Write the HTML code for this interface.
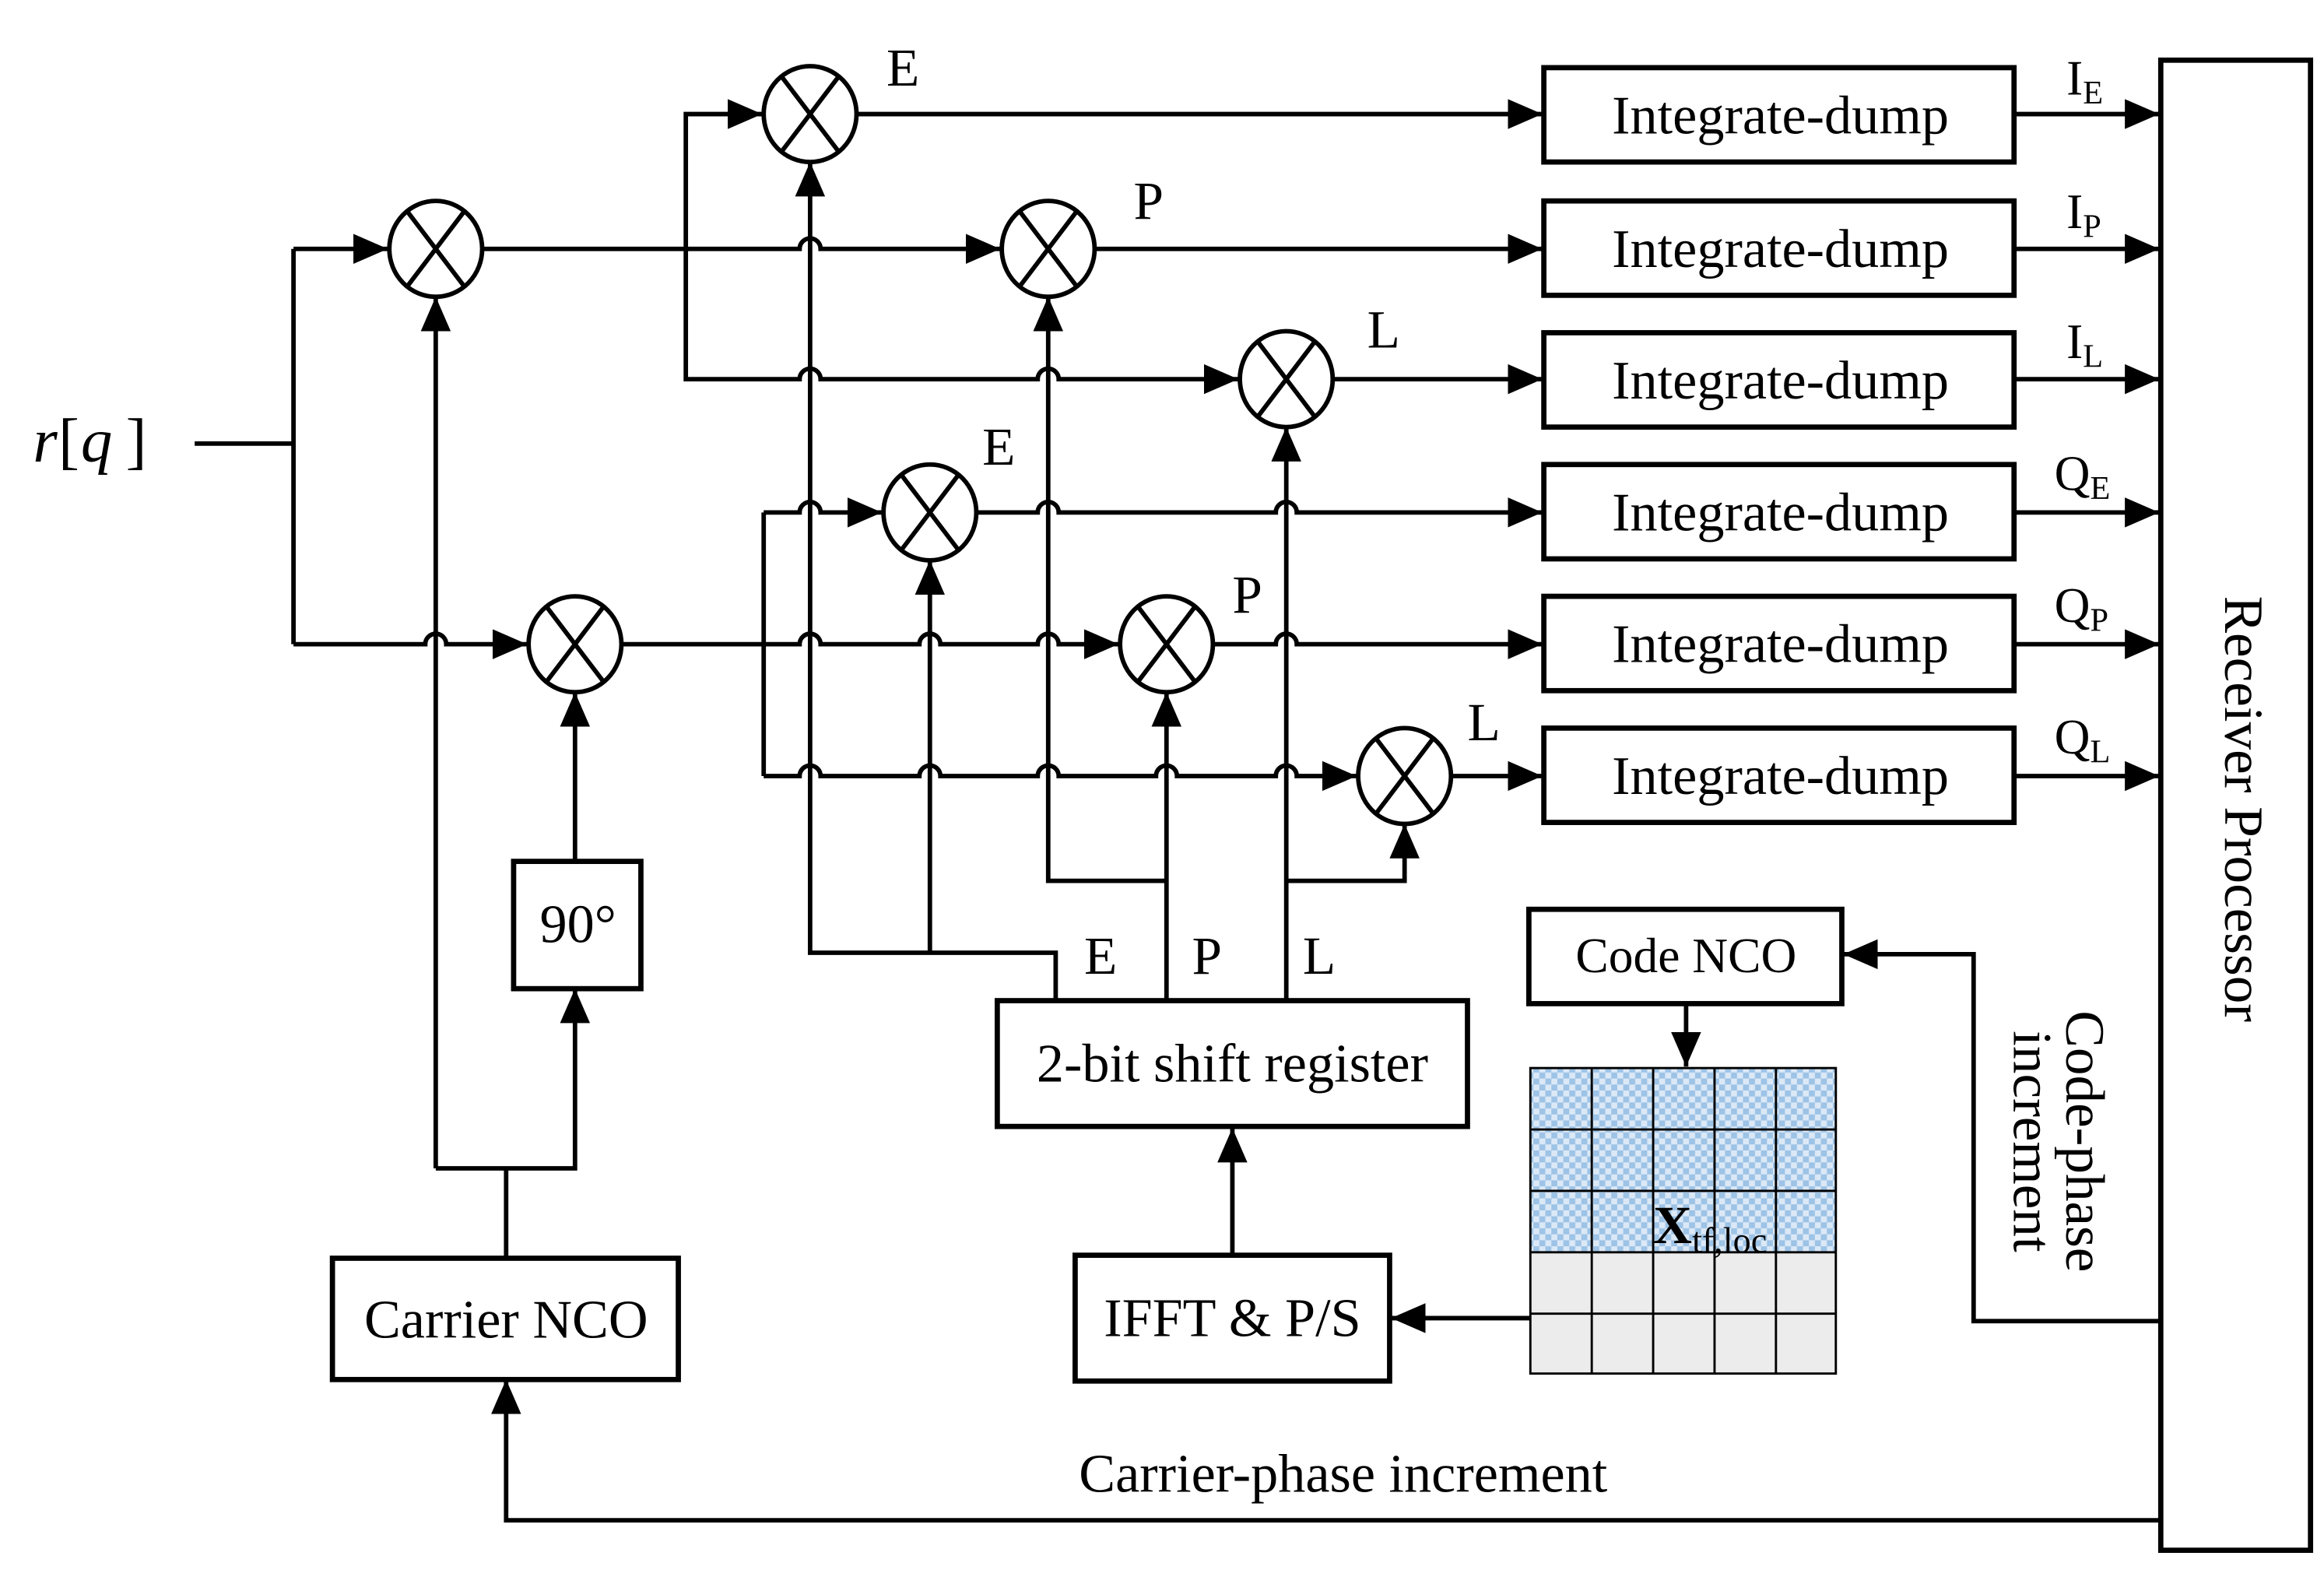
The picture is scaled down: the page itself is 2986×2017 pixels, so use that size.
<!DOCTYPE html>
<html><head><meta charset="utf-8"><style>html,body{margin:0;padding:0;background:#fff}svg{display:block}</style></head>
<body>
<svg xmlns="http://www.w3.org/2000/svg" width="2986" height="2017" viewBox="0 0 1552 1048" font-family="'Liberation Serif', serif">
<defs>
<marker id="a" markerUnits="userSpaceOnUse" markerWidth="26" markerHeight="24" refX="23" refY="10" orient="auto"><path d="M0,0 L23,10 L0,20 z" fill="#000"/></marker>
<pattern id="chk" width="8" height="8" patternUnits="userSpaceOnUse"><rect width="8" height="8" fill="#dbe8f6"/><rect width="4" height="4" fill="#9dc3e6"/><rect x="4" y="4" width="4" height="4" fill="#9dc3e6"/></pattern>
</defs>
<rect width="1552" height="1048" fill="#fff"/>
<g fill="none" stroke="#000" stroke-width="3">
<path d="M130 296 L196 296 M196 166 L196 430"/>
<path d="M196 166 L259 166" marker-end="url(#a)"/>
<path d="M196 430 L284 430 A7 7 0 0 1 298 430 L352 430" marker-end="url(#a)"/>
<path d="M322 166 L534 166 A7 7 0 0 1 548 166 L668 166" marker-end="url(#a)"/>
<path d="M458 166 L458 76 L509 76" marker-end="url(#a)"/>
<path d="M458 166 L458 253 L534 253 A7 7 0 0 1 548 253 L693 253 A7 7 0 0 1 707 253 L827 253" marker-end="url(#a)"/>
<path d="M572 76 L1030 76" marker-end="url(#a)"/>
<path d="M731 166 L1030 166" marker-end="url(#a)"/>
<path d="M890 253 L1030 253" marker-end="url(#a)"/>
<path d="M415 430 L534 430 A7 7 0 0 1 548 430 L614 430 A7 7 0 0 1 628 430 L693 430 A7 7 0 0 1 707 430 L747 430" marker-end="url(#a)"/>
<path d="M510 342 L510 518"/>
<path d="M510 342 L534 342 A7 7 0 0 1 548 342 L589 342" marker-end="url(#a)"/>
<path d="M652 342 L693 342 A7 7 0 0 1 707 342 L852 342 A7 7 0 0 1 866 342 L1030 342" marker-end="url(#a)"/>
<path d="M810 430 L852 430 A7 7 0 0 1 866 430 L1030 430" marker-end="url(#a)"/>
<path d="M510 518 L534 518 A7 7 0 0 1 548 518 L614 518 A7 7 0 0 1 628 518 L693 518 A7 7 0 0 1 707 518 L772 518 A7 7 0 0 1 786 518 L852 518 A7 7 0 0 1 866 518 L906 518" marker-end="url(#a)"/>
<path d="M969 518 L1030 518" marker-end="url(#a)"/>
<path d="M291 780 L291 198" marker-end="url(#a)"/>
<path d="M291 780 L384 780 L384 660" marker-end="url(#a)"/>
<path d="M338 840 L338 780"/>
<path d="M384 575 L384 462" marker-end="url(#a)"/>
<path d="M705 668 L705 636 L541 636 L541 108" marker-end="url(#a)"/>
<path d="M621 636 L621 374" marker-end="url(#a)"/>
<path d="M779 668 L779 462" marker-end="url(#a)"/>
<path d="M779 588 L700 588 L700 198" marker-end="url(#a)"/>
<path d="M859 668 L859 285" marker-end="url(#a)"/>
<path d="M859 588 L938 588 L938 550" marker-end="url(#a)"/>
<path d="M823 838 L823 753" marker-end="url(#a)"/>
<path d="M1022 880 L929 880" marker-end="url(#a)"/>
<path d="M1126 670 L1126 712" marker-end="url(#a)"/>
<path d="M1443 882 L1318 882 L1318 637 L1231 637" marker-end="url(#a)"/>
<path d="M1443 1015 L338 1015 L338 921" marker-end="url(#a)"/>
<path d="M1345 76 L1442 76" marker-end="url(#a)"/>
<path d="M1345 166 L1442 166" marker-end="url(#a)"/>
<path d="M1345 253 L1442 253" marker-end="url(#a)"/>
<path d="M1345 342 L1442 342" marker-end="url(#a)"/>
<path d="M1345 430 L1442 430" marker-end="url(#a)"/>
<path d="M1345 518 L1442 518" marker-end="url(#a)"/>
</g>
<g fill="#fff" stroke="#000" stroke-width="3">
<g transform="translate(541,76)"><ellipse rx="31" ry="32"/><path d="M-19,-25 L19,25 M19,-25 L-19,25"/></g>
<g transform="translate(291,166)"><ellipse rx="31" ry="32"/><path d="M-19,-25 L19,25 M19,-25 L-19,25"/></g>
<g transform="translate(700,166)"><ellipse rx="31" ry="32"/><path d="M-19,-25 L19,25 M19,-25 L-19,25"/></g>
<g transform="translate(859,253)"><ellipse rx="31" ry="32"/><path d="M-19,-25 L19,25 M19,-25 L-19,25"/></g>
<g transform="translate(621,342)"><ellipse rx="31" ry="32"/><path d="M-19,-25 L19,25 M19,-25 L-19,25"/></g>
<g transform="translate(384,430)"><ellipse rx="31" ry="32"/><path d="M-19,-25 L19,25 M19,-25 L-19,25"/></g>
<g transform="translate(779,430)"><ellipse rx="31" ry="32"/><path d="M-19,-25 L19,25 M19,-25 L-19,25"/></g>
<g transform="translate(938,518)"><ellipse rx="31" ry="32"/><path d="M-19,-25 L19,25 M19,-25 L-19,25"/></g>
</g>
<g fill="#fff" stroke="#000" stroke-width="3.5">
<rect x="1031" y="45" width="314" height="63"/>
<rect x="1031" y="134" width="314" height="63"/>
<rect x="1031" y="222" width="314" height="63"/>
<rect x="1031" y="310" width="314" height="63"/>
<rect x="1031" y="398" width="314" height="63"/>
<rect x="1031" y="486" width="314" height="63"/>
<rect x="1443" y="40" width="100" height="995"/>
<rect x="343" y="575" width="85" height="85"/>
<rect x="222" y="840" width="231" height="81"/>
<rect x="666" y="668" width="314" height="84"/>
<rect x="718" y="838" width="210" height="84"/>
<rect x="1021" y="607" width="209" height="63"/>
</g>
<rect x="1022" y="713" width="204" height="123" fill="url(#chk)"/>
<rect x="1022" y="836" width="204" height="81" fill="#ececec"/>
<g stroke="#000" stroke-width="1.5" fill="none">
<rect x="1022" y="713" width="204" height="204"/>
<path d="M1063 713V917 M1104 713V917 M1145 713V917 M1186 713V917 M1022 754H1226 M1022 795H1226 M1022 836H1226 M1022 877H1226"/>
</g>
<g font-size="36" fill="#000">
<text x="22" y="308" font-size="42" font-style="italic">r</text><text x="39" y="308" font-size="42">[</text><text x="54" y="308" font-size="42" font-style="italic">q</text><text x="84" y="308" font-size="42">]</text>
<g text-anchor="middle" font-size="36.5">
<text x="1189" y="89">Integrate-dump</text>
<text x="1189" y="178">Integrate-dump</text>
<text x="1189" y="266">Integrate-dump</text>
<text x="1189" y="354">Integrate-dump</text>
<text x="1189" y="442">Integrate-dump</text>
<text x="1189" y="530">Integrate-dump</text>
<text x="386" y="629">90°</text>
<text x="338" y="893">Carrier NCO</text>
<text x="823" y="722">2-bit shift register</text>
<text x="823" y="892">IFFT &amp; P/S</text>
<text x="1126" y="649" font-size="33">Code NCO</text>
<text x="897" y="996">Carrier-phase increment</text>
</g>
<text x="592" y="57">E</text><text x="757" y="146">P</text><text x="913" y="232">L</text>
<text x="656" y="310">E</text><text x="823" y="409">P</text><text x="980" y="494">L</text>
<text x="724" y="650">E</text><text x="796" y="650">P</text><text x="870" y="650">L</text>
<text x="1380" y="63" font-size="33">I<tspan font-size="22" dy="6">E</tspan></text>
<text x="1380" y="152" font-size="33">I<tspan font-size="22" dy="6">P</tspan></text>
<text x="1380" y="239" font-size="33">I<tspan font-size="22" dy="6">L</tspan></text>
<text x="1372" y="327" font-size="33">Q<tspan font-size="22" dy="6">E</tspan></text>
<text x="1372" y="415" font-size="33">Q<tspan font-size="22" dy="6">P</tspan></text>
<text x="1372" y="503" font-size="33">Q<tspan font-size="22" dy="6">L</tspan></text>
<text x="1104" y="830" font-size="36" font-weight="bold">X<tspan font-size="24" font-weight="normal" dy="6">tf,loc</tspan></text>
<text transform="translate(1486,540) rotate(90)" text-anchor="middle" font-size="37">Receiver Processor</text>
<text transform="translate(1380,762) rotate(90)" text-anchor="middle" font-size="37">Code-phase</text>
<text transform="translate(1345,762) rotate(90)" text-anchor="middle" font-size="37">increment</text>
</g>
</svg>
</body></html>
